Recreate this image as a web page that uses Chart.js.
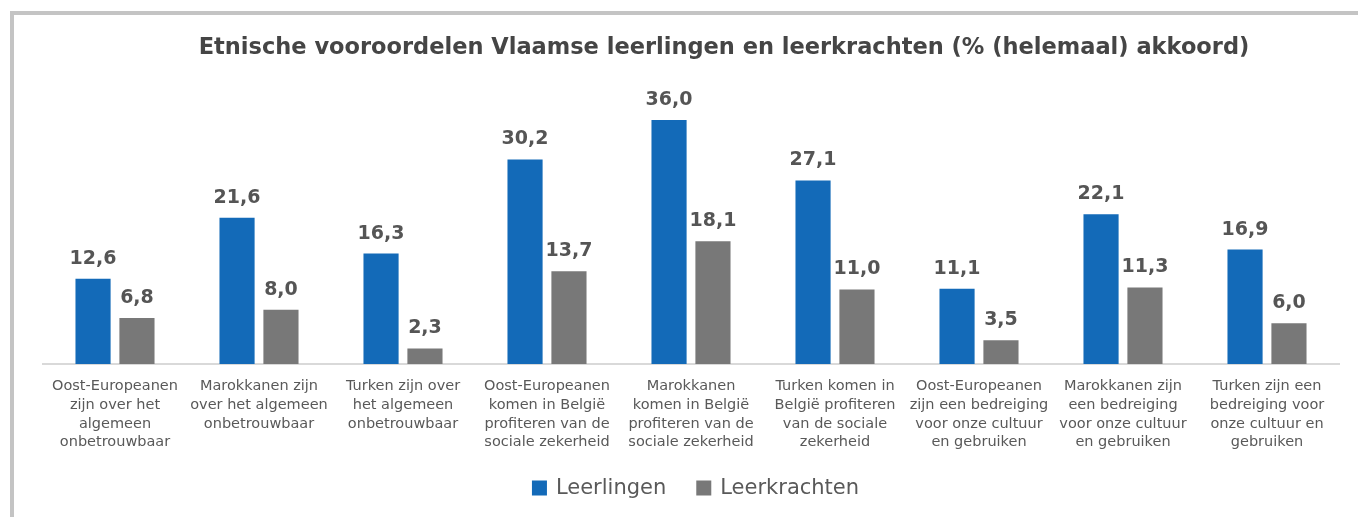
<!DOCTYPE html>
<html><head><meta charset="utf-8">
<script src="https://cdn.jsdelivr.net/npm/chart.js@4.4.1/dist/chart.umd.min.js"></script>
<style>
html,body{margin:0;padding:0;background:#fff;}
#wrap{position:absolute;left:0;top:0;width:1358px;height:517px;}
#frame{position:absolute;left:10px;top:11px;width:1348px;height:506px;border-top:4px solid #c4c4c4;border-left:4px solid #c4c4c4;box-sizing:border-box;pointer-events:none;}
canvas{display:block;}
</style></head><body>
<div id="wrap"><canvas id="c" width="1358" height="517"></canvas><div id="frame"></div></div>
<script>
const titleText = "Etnische vooroordelen Vlaamse leerlingen en leerkrachten (% (helemaal) akkoord)";
const categories = [
  ["Oost-Europeanen","zijn over het","algemeen","onbetrouwbaar"],
  ["Marokkanen zijn","over het algemeen","onbetrouwbaar"],
  ["Turken zijn over","het algemeen","onbetrouwbaar"],
  ["Oost-Europeanen","komen in België","profiteren van de","sociale zekerheid"],
  ["Marokkanen","komen in België","profiteren van de","sociale zekerheid"],
  ["Turken komen in","België profiteren","van de sociale","zekerheid"],
  ["Oost-Europeanen","zijn een bedreiging","voor onze cultuur","en gebruiken"],
  ["Marokkanen zijn","een bedreiging","voor onze cultuur","en gebruiken"],
  ["Turken zijn een","bedreiging voor","onze cultuur en","gebruiken"]
];
const leerlingen = [12.6, 21.6, 16.3, 30.2, 36.0, 27.1, 11.1, 22.1, 16.9];
const leerkrachten = [6.8, 8.0, 2.3, 13.7, 18.1, 11.0, 3.5, 11.3, 6.0];
const seriesNames = ["Leerlingen", "Leerkrachten"];

const FONT = "'DejaVu Sans', sans-serif";

const valueLabels = {
  id: 'valueLabels',
  afterDatasetsDraw(chart) {
    const ctx = chart.ctx;
    ctx.save();
    ctx.font = "bold 19px " + FONT;
    ctx.fillStyle = "#555555";
    ctx.textAlign = "center";
    ctx.textBaseline = "alphabetic";
    chart.data.datasets.forEach((ds, i) => {
      chart.getDatasetMeta(i).data.forEach((bar, j) => {
        const txt = ds.data[j].toFixed(1).replace('.', ',');
        ctx.fillText(txt, bar.x, bar.y - 15);
      });
    });
    ctx.restore();
  }
};

const titleAndLegend = {
  id: 'titleAndLegend',
  afterDraw(chart) {
    const ctx = chart.ctx;
    ctx.save();
    ctx.font = "bold 22.5px " + FONT;
    ctx.fillStyle = "#454545";
    ctx.textAlign = "center";
    ctx.textBaseline = "middle";
    ctx.fillText(titleText, 724, 48);

    // legend
    ctx.font = "21px " + FONT;
    ctx.textAlign = "left";
    const box = 15, gapText = 9, gapItem = 30, cy = 488;
    const items = chart.data.datasets.map(ds => ({ text: ds.label, color: ds.backgroundColor, w: ctx.measureText(ds.label).width }));
    let total = 0;
    items.forEach((it, i) => { total += box + gapText + it.w + (i ? gapItem : 0); });
    let x = 695.5 - total / 2;
    items.forEach((it, i) => {
      if (i) x += gapItem;
      ctx.fillStyle = it.color;
      ctx.fillRect(x, cy - box / 2, box, box);
      x += box + gapText;
      ctx.fillStyle = "#595959";
      ctx.fillText(it.text, x, cy + 1);
      x += it.w;
    });
    ctx.restore();
  }
};

new Chart(document.getElementById('c'), {
  type: 'bar',
  data: {
    labels: categories,
    datasets: [
      { label: seriesNames[0], data: leerlingen, backgroundColor: '#136ab8' },
      { label: seriesNames[1], data: leerkrachten, backgroundColor: '#787878' }
    ]
  },
  options: {
    responsive: false,
    animation: false,
    layout: { padding: { left: 43, right: 19, top: 93, bottom: 61 } },
    datasets: { bar: { categoryPercentage: 0.61, barPercentage: 0.8 } },
    scales: {
      x: {
        grid: { display: false, drawTicks: false },
        border: { color: '#d9d9d9', width: 2 },
        ticks: { color: '#595959', font: { family: FONT, size: 14.5, lineHeight: 1.29 }, padding: 13, maxRotation: 0, autoSkip: false },
        afterFit(scale) { scale.height = 92; }
      },
      y: { display: false, min: 0, max: 40 }
    },
    plugins: {
      title: { display: false },
      legend: { display: false },
      tooltip: { enabled: false }
    }
  },
  plugins: [valueLabels, titleAndLegend]
});
</script></body></html>
